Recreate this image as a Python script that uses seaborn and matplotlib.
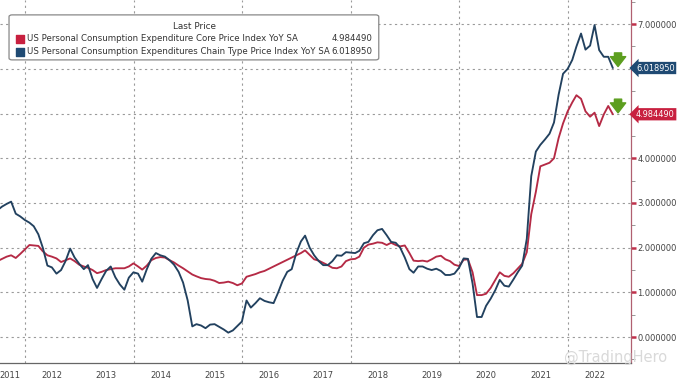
import numpy as np
import pandas as pd
import matplotlib
matplotlib.use("Agg")
import matplotlib.pyplot as plt
import matplotlib.dates as mdates
from matplotlib.ticker import MultipleLocator, NullFormatter, FixedLocator, FixedFormatter, FuncFormatter
from matplotlib.patches import FancyBboxPatch
import seaborn as sns

sns.set_style("white")
plt.rcParams['font.family'] = ['DejaVu Sans']

# monthly YoY readings, Jun 2011 .. Oct 2022 (month-end dates)
dates = pd.date_range('2011-06-30', periods=137, freq='ME')

headline = [
    2.84, 2.92, 2.98, 3.03, 2.76, 2.70, 2.62,
    2.56, 2.48, 2.30, 2.00, 1.60, 1.56, 1.42, 1.50, 1.70, 1.98, 1.78, 1.64,
    1.52, 1.61, 1.30, 1.10, 1.30, 1.48, 1.58, 1.34, 1.18, 1.06, 1.33, 1.45,
    1.42, 1.24, 1.52, 1.75, 1.88, 1.83, 1.80, 1.72, 1.62, 1.46, 1.22, 0.82,
    0.24, 0.29, 0.26, 0.20, 0.28, 0.29, 0.23, 0.17, 0.10, 0.15, 0.25, 0.35,
    0.82, 0.66, 0.76, 0.87, 0.81, 0.78, 0.76, 1.00, 1.26, 1.46, 1.52, 1.88,
    2.14, 2.27, 2.00, 1.83, 1.70, 1.61, 1.61, 1.70, 1.83, 1.82, 1.90, 1.89,
    1.88, 1.93, 2.10, 2.13, 2.28, 2.39, 2.42, 2.28, 2.13, 2.11, 2.00, 1.78,
    1.52, 1.44, 1.58, 1.58, 1.53, 1.50, 1.53, 1.48, 1.39, 1.39, 1.42, 1.55,
    1.76, 1.75, 1.20, 0.45, 0.45, 0.70, 0.86, 1.05, 1.28, 1.15, 1.13, 1.29,
    1.46, 1.60, 2.20, 3.60, 4.15, 4.30, 4.42, 4.55, 4.80, 5.42, 5.89, 6.00,
    6.20, 6.50, 6.79, 6.43, 6.52, 6.98, 6.42, 6.27, 6.27, 6.01895,
]

core = [
    1.70, 1.75, 1.80, 1.83, 1.77, 1.86, 1.96,
    2.06, 2.05, 2.04, 1.92, 1.83, 1.80, 1.76, 1.68, 1.72, 1.76, 1.70, 1.62,
    1.58, 1.55, 1.50, 1.43, 1.46, 1.50, 1.52, 1.54, 1.54, 1.54, 1.58, 1.65,
    1.58, 1.51, 1.60, 1.72, 1.77, 1.79, 1.78, 1.72, 1.67, 1.60, 1.54, 1.47,
    1.40, 1.36, 1.32, 1.30, 1.29, 1.26, 1.21, 1.22, 1.24, 1.21, 1.16, 1.20,
    1.35, 1.38, 1.41, 1.45, 1.48, 1.53, 1.58, 1.63, 1.68, 1.73, 1.78, 1.83,
    1.88, 1.94, 1.84, 1.74, 1.71, 1.66, 1.61, 1.55, 1.54, 1.58, 1.70, 1.74,
    1.75, 1.80, 2.00, 2.07, 2.09, 2.12, 2.11, 2.06, 2.11, 2.06, 2.03, 2.05,
    1.88, 1.71, 1.70, 1.71, 1.69, 1.74, 1.80, 1.82, 1.74, 1.70, 1.62, 1.59,
    1.73, 1.74, 1.45, 0.94, 0.94, 0.97, 1.10, 1.28, 1.45, 1.37, 1.35, 1.43,
    1.54, 1.64, 1.90, 2.75, 3.25, 3.82, 3.86, 3.90, 4.00, 4.45, 4.78, 5.05,
    5.25, 5.41, 5.33, 5.05, 4.93, 5.02, 4.72, 4.98, 5.17, 4.98449,
]

names = ['US Personal Consumption Expenditure Core Price Index YoY SA',
         'US Personal Consumption Expenditures Chain Type Price Index YoY SA']
last_vals = ['4.984490', '6.018950']
line_colors = ['#b52a45', '#22415f']
box_colors = ['#c8203f', '#1f4a73']
year_labels = [str(y) for y in range(2011, 2023)]

df = pd.DataFrame({'date': np.concatenate([dates, dates]),
                   'value': headline + core,
                   'series': [names[1]] * len(dates) + [names[0]] * len(dates)})

fig = plt.figure(figsize=(6.77, 3.85), dpi=100)
ax = fig.add_axes([0, 0.057, 0.932, 0.943])

sns.lineplot(data=df, x='date', y='value', hue='series',
             hue_order=[names[0], names[1]], palette=line_colors,
             linewidth=1.35, legend=False, ax=ax)

xmin = pd.Timestamp('2011-07-17')
xmax = pd.Timestamp('2023-03-02')
ax.set_xlim(xmin, xmax)
ax.set_ylim(-0.58, 7.54)
ax.set_xlabel('')
ax.set_ylabel('')

# spines
for s in ['top', 'left']:
    ax.spines[s].set_visible(False)
ax.spines['right'].set_color('#b06070')
ax.spines['right'].set_linewidth(0.9)
ax.spines['bottom'].set_color('#666666')
ax.spines['bottom'].set_linewidth(0.9)

# y axis on the right
ax.yaxis.tick_right()
ax.yaxis.set_major_locator(MultipleLocator(1))
ax.yaxis.set_minor_locator(MultipleLocator(0.5))
ax.yaxis.set_major_formatter(FuncFormatter(
    lambda v, p: '' if round(v) in (5, 6) else '%.6f' % v))
ax.tick_params(axis='y', which='major', length=3.5, width=1.8, color='#c0304a',
               labelsize=6.0, labelcolor='#444444', pad=1.2)
ax.tick_params(axis='y', which='minor', length=3, width=0.6, color='#888888')
ax.grid(axis='y', which='major', linestyle=(0, (2, 3)), color='#9a9a9a', linewidth=0.8)

# x axis: year separators, labels centred in each year
ax.xaxis.set_major_locator(mdates.YearLocator())
ax.xaxis.set_major_formatter(NullFormatter())
label_pos = [pd.Timestamp('2011-09-19')] + [pd.Timestamp(f'{y}-07-01') for y in range(2012, 2023)]
ax.xaxis.set_minor_locator(FixedLocator(mdates.date2num(label_pos)))
ax.xaxis.set_minor_formatter(FixedFormatter(year_labels))
ax.tick_params(axis='x', which='major', length=16, width=0.8, color='#555555')
ax.tick_params(axis='x', which='minor', length=0, pad=6, labelsize=6.0, labelcolor='#444444')

for y in range(2012, 2023, 2):
    ax.axvline(pd.Timestamp(f'{y}-01-01'), linestyle=(0, (2, 3)), color='#9a9a9a',
               linewidth=0.8, zorder=0)

# last value boxes on the axis
for val, txt, c in zip([core[-1], headline[-1]], last_vals, box_colors):
    ax.annotate(txt, xy=(1, val), xycoords=('axes fraction', 'data'),
                xytext=(3.6, 0), textcoords='offset points', ha='left', va='center',
                color='white', fontsize=5.9,
                bbox=dict(boxstyle='larrow,pad=0.2', fc=c, ec='none'),
                annotation_clip=False, zorder=10)

# green down arrows near the last points
arrow_x = dates[-1] + pd.Timedelta(days=35)
for val in [core[-1], headline[-1]]:
    ax.annotate('', xy=(arrow_x, val - 0.03), xytext=(arrow_x, val + 0.40),
                arrowprops=dict(arrowstyle='simple,head_width=0.85,head_length=0.55,tail_width=0.4',
                                color='#5c9e1f', mutation_scale=13),
                annotation_clip=False, zorder=9)

# legend box
box = FancyBboxPatch((0.0143, 0.835), 0.586, 0.124, boxstyle='round,pad=0,rounding_size=0.005',
                     transform=ax.transAxes, fc='white', ec='#888888', lw=0.9, zorder=11)
ax.add_patch(box)
ax.text(0.3075, 0.928, 'Last Price', transform=ax.transAxes, ha='center', va='center',
        fontsize=6.4, color='#333333', zorder=12)
for i, (nm, val, c) in enumerate(zip(names, last_vals, box_colors)):
    yy = 0.893 - i * 0.035
    ax.scatter([0.0317], [yy], marker='s', s=26, color=c, transform=ax.transAxes,
               zorder=12, clip_on=False)
    ax.text(0.043, yy, nm, transform=ax.transAxes, ha='left', va='center',
            fontsize=6.2, color='#333333', zorder=12)
    ax.text(0.5905, yy, val, transform=ax.transAxes, ha='right', va='center',
            fontsize=6.2, color='#333333', zorder=12)

# watermark
fig.text(0.985, 0.072, '@TradingHero', ha='right', va='center', fontsize=10.5,
         color='#d9d9d9')

fig.savefig('out.png', dpi=100)
